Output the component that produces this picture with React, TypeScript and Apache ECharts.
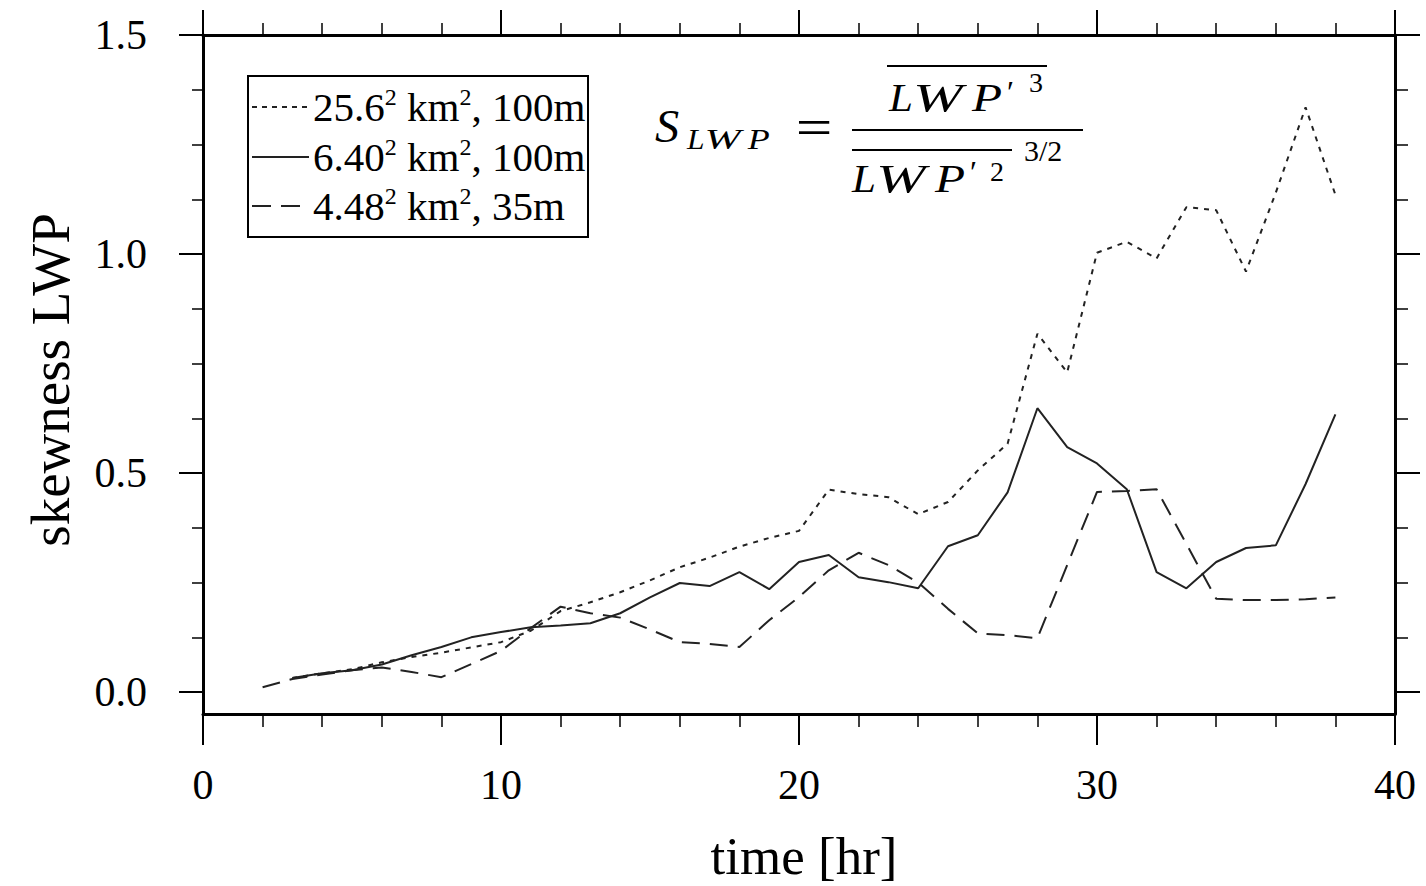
import React, { useEffect, useRef } from "react";
import * as echarts from "echarts";

// ---- data ----
const hoursDashed = [2, 3, 4, 5, 6, 7, 8, 9, 10, 11, 12, 13, 14, 15, 16, 17, 18, 19, 20, 21, 22, 23, 24, 25, 26, 27, 28, 29, 30, 31, 32, 33, 34, 35, 36, 37, 38];
const hoursOther = [3, 4, 5, 6, 7, 8, 9, 10, 11, 12, 13, 14, 15, 16, 17, 18, 19, 20, 21, 22, 23, 24, 25, 26, 27, 28, 29, 30, 31, 32, 33, 34, 35, 36, 37, 38];

// 25.6^2 km^2, 100m (dotted)
const skew256 = [0.032, 0.043, 0.052, 0.068, 0.08, 0.09, 0.102, 0.114, 0.14, 0.185, 0.205, 0.228, 0.255, 0.285, 0.307, 0.332, 0.352, 0.368, 0.462, 0.452, 0.445, 0.406, 0.434, 0.506, 0.567, 0.818, 0.73, 1.003, 1.028, 0.99, 1.107, 1.1, 0.96, 1.14, 1.335, 1.135];
// 6.40^2 km^2, 100m (solid)
const skew640 = [0.032, 0.043, 0.05, 0.063, 0.084, 0.103, 0.125, 0.137, 0.148, 0.152, 0.157, 0.18, 0.216, 0.249, 0.242, 0.274, 0.235, 0.297, 0.313, 0.262, 0.251, 0.237, 0.333, 0.358, 0.456, 0.648, 0.559, 0.522, 0.463, 0.274, 0.237, 0.297, 0.329, 0.335, 0.475, 0.634];
// 4.48^2 km^2, 35m (dashed)
const skew448 = [0.011, 0.03, 0.04, 0.05, 0.056, 0.046, 0.034, 0.064, 0.094, 0.146, 0.195, 0.18, 0.17, 0.143, 0.114, 0.11, 0.103, 0.164, 0.217, 0.278, 0.318, 0.29, 0.25, 0.19, 0.134, 0.13, 0.123, 0.29, 0.457, 0.459, 0.463, 0.338, 0.213, 0.21, 0.21, 0.212, 0.216];

const yMajorTicks = [0, 0.5, 1.0, 1.5];
const yMinorTicks = [0.125, 0.25, 0.375, 0.625, 0.75, 0.875, 1.125, 1.25, 1.375];
const legendTexts = ["25.6{s|2} km{s|2}, 100m", "6.40{s|2} km{s|2}, 100m", "4.48{s|2} km{s|2}, 35m"];
const xAxisTitle = "time [hr]";
const yAxisTitle = "skewness LWP";

const FONT = '"Liberation Serif", "Times New Roman", Times, serif';
const INK = "#000";
const LINE = "#222";

function pairs(xs: number[], ys: number[]) {
  return xs.map((x, i) => [x, ys[i]]);
}

function xAxisDef(pos: "bottom" | "top") {
  const bottom = pos === "bottom";
  return {
    type: "value",
    position: pos,
    min: 0,
    max: 40,
    interval: 10,
    axisLine: { show: true, onZero: false, lineStyle: { color: INK, width: 3 } },
    axisTick: { show: true, inside: false, length: bottom ? 31 : 25, lineStyle: { color: INK, width: 2 } },
    minorTick: { show: true, splitNumber: 5, length: bottom ? 13 : 12, lineStyle: { color: INK, width: 1.5 } },
    axisLabel: bottom
      ? { show: true, margin: 50, fontSize: 42, fontFamily: FONT, color: INK }
      : { show: false },
    splitLine: { show: false },
    minorSplitLine: { show: false },
  };
}

function yAxisDef(pos: "left" | "right", minor: boolean) {
  const left = pos === "left";
  return {
    type: "value",
    position: pos,
    offset: 0,
    min: -0.05,
    max: 1.5,
    axisLine: { show: !minor, onZero: false, lineStyle: { color: INK, width: 3 } },
    axisTick: {
      show: true,
      inside: false,
      length: minor ? (left ? 11 : 13) : left ? 24 : 25,
      customValues: minor ? yMinorTicks : yMajorTicks,
      lineStyle: { color: INK, width: minor ? 1.5 : 2 },
    },
    axisLabel:
      left && !minor
        ? {
            show: true,
            customValues: yMajorTicks,
            formatter: (v: number) => v.toFixed(1),
            margin: 56,
            fontSize: 42,
            fontFamily: FONT,
            color: INK,
          }
        : { show: false },
    splitLine: { show: false },
  };
}

function italic(text: string, x: number, y: number, size: number, sx = 1) {
  return {
    type: "text",
    x,
    y,
    scaleX: sx,
    silent: true,
    style: {
      text,
      fill: INK,
      fontStyle: "italic",
      fontSize: size,
      fontFamily: FONT,
      align: "left",
      textAlign: "left",
      verticalAlign: "middle",
      textVerticalAlign: "middle",
    },
  };
}

function upright(text: string, x: number, y: number, size: number, align = "left", sx = 1) {
  return {
    type: "text",
    x,
    y,
    scaleX: sx,
    silent: true,
    style: {
      text,
      fill: INK,
      fontSize: size,
      fontFamily: FONT,
      align,
      textAlign: align,
      verticalAlign: "middle",
      textVerticalAlign: "middle",
    },
  };
}

function hline(x1: number, x2: number, y: number, w = 2) {
  return {
    type: "line",
    silent: true,
    shape: { x1, y1: y, x2, y2: y },
    style: { stroke: INK, lineWidth: w },
  };
}

// letters of "LWP" with their own horizontal stretch, as in the typeset reference
function lwp(x: number, y: number, size: number, out: any[]) {
  const k = size / 41;
  out.push(italic("L", x, y, size, 1.05));
  out.push(italic("W", x + 24 * k, y, size, 1.45));
  out.push(italic("P", x + 83 * k, y, size, 1.2));
}

export default function App() {
  const ref = useRef<HTMLDivElement>(null);

  useEffect(() => {
    if (!ref.current) return;
    const chart = echarts.init(ref.current, undefined, { renderer: "svg" });

    const legendRows = [
      { y: 107, dash: [5, 5] as any },
      { y: 157, dash: "solid" as any },
      { y: 206, dash: [19, 10] as any },
    ];

    const graphic: any[] = [
      {
        type: "rect",
        silent: true,
        shape: { x: 248, y: 76, width: 340, height: 161 },
        style: { fill: "#fff", stroke: INK, lineWidth: 2 },
      },
    ];
    legendRows.forEach((r, i) => {
      graphic.push({
        type: "line",
        silent: true,
        shape: { x1: 252, y1: r.y, x2: 309, y2: r.y },
        style: { stroke: LINE, lineWidth: 2, lineDash: r.dash === "solid" ? null : r.dash },
      });
      graphic.push({
        type: "text",
        x: 313,
        y: r.y,
        silent: true,
        style: {
          text: legendTexts[i],
          fill: INK,
          fontSize: 41,
          fontFamily: FONT,
          lineHeight: 44,
          align: "left",
          textAlign: "left",
          verticalAlign: "middle",
          textVerticalAlign: "middle",
          rich: {
            s: { fontSize: 24, fontFamily: FONT, lineHeight: 24, verticalAlign: "top", fill: INK },
          },
        },
      });
    });

    // formula S_LWP = overline(LWP'^3) / overline(LWP'^2)^{3/2}
    graphic.push(italic("S", 655, 126, 46, 1.05));
    lwp(687, 139, 30, graphic);
    graphic.push(upright("=", 814, 128, 52, "center", 1.25));
    graphic.push(hline(852, 1083, 130, 2));
    // numerator
    graphic.push(hline(887, 1047, 66, 2));
    lwp(889, 97, 41, graphic);
    graphic.push(upright("\u2032", 1007, 92, 32));
    graphic.push(upright("3", 1029, 82, 28));
    // denominator
    graphic.push(hline(852, 1012, 150, 2));
    lwp(852, 178, 41, graphic);
    graphic.push(upright("\u2032", 970, 172, 32));
    graphic.push(upright("2", 990, 171, 28));
    graphic.push(upright("3/2", 1024, 150, 30));

    // axis titles
    graphic.push({
      type: "text",
      x: 804,
      y: 856,
      silent: true,
      style: {
        text: xAxisTitle,
        fill: INK,
        fontSize: 53,
        lineHeight: 46,
        fontFamily: FONT,
        align: "center",
        textAlign: "center",
        verticalAlign: "middle",
        textVerticalAlign: "middle",
      },
    });
    graphic.push({
      type: "text",
      x: 50,
      y: 380,
      rotation: Math.PI / 2,
      silent: true,
      style: {
        text: yAxisTitle,
        fill: INK,
        fontSize: 55,
        fontFamily: FONT,
        align: "center",
        textAlign: "center",
        verticalAlign: "middle",
        textVerticalAlign: "middle",
      },
    });

    const option: any = {
      animation: false,
      backgroundColor: "#fff",
      grid: { left: 203, right: 31, top: 35, bottom: 172, containLabel: false },
      xAxis: [xAxisDef("bottom"), xAxisDef("top")],
      yAxis: [yAxisDef("left", false), yAxisDef("right", false), yAxisDef("left", true), yAxisDef("right", true)],
      series: [
        {
          name: "25.6² km², 100m",
          type: "line",
          xAxisIndex: 0,
          yAxisIndex: 0,
          data: pairs(hoursOther, skew256),
          symbol: "none",
          showSymbol: false,
          lineStyle: { color: LINE, width: 2, type: [5, 6] },
        },
        {
          name: "6.40² km², 100m",
          type: "line",
          xAxisIndex: 0,
          yAxisIndex: 0,
          data: pairs(hoursOther, skew640),
          symbol: "none",
          showSymbol: false,
          lineStyle: { color: LINE, width: 2, type: "solid" },
        },
        {
          name: "4.48² km², 35m",
          type: "line",
          xAxisIndex: 0,
          yAxisIndex: 0,
          data: pairs(hoursDashed, skew448),
          symbol: "none",
          showSymbol: false,
          lineStyle: { color: LINE, width: 2, type: [18, 10] },
        },
      ],
      graphic,
    };

    chart.setOption(option);
    return () => chart.dispose();
  }, []);

  return (
    <div
      ref={ref}
      style={{ position: "fixed", left: 0, top: 0, width: 1426, height: 886, background: "#fff" }}
    />
  );
}
